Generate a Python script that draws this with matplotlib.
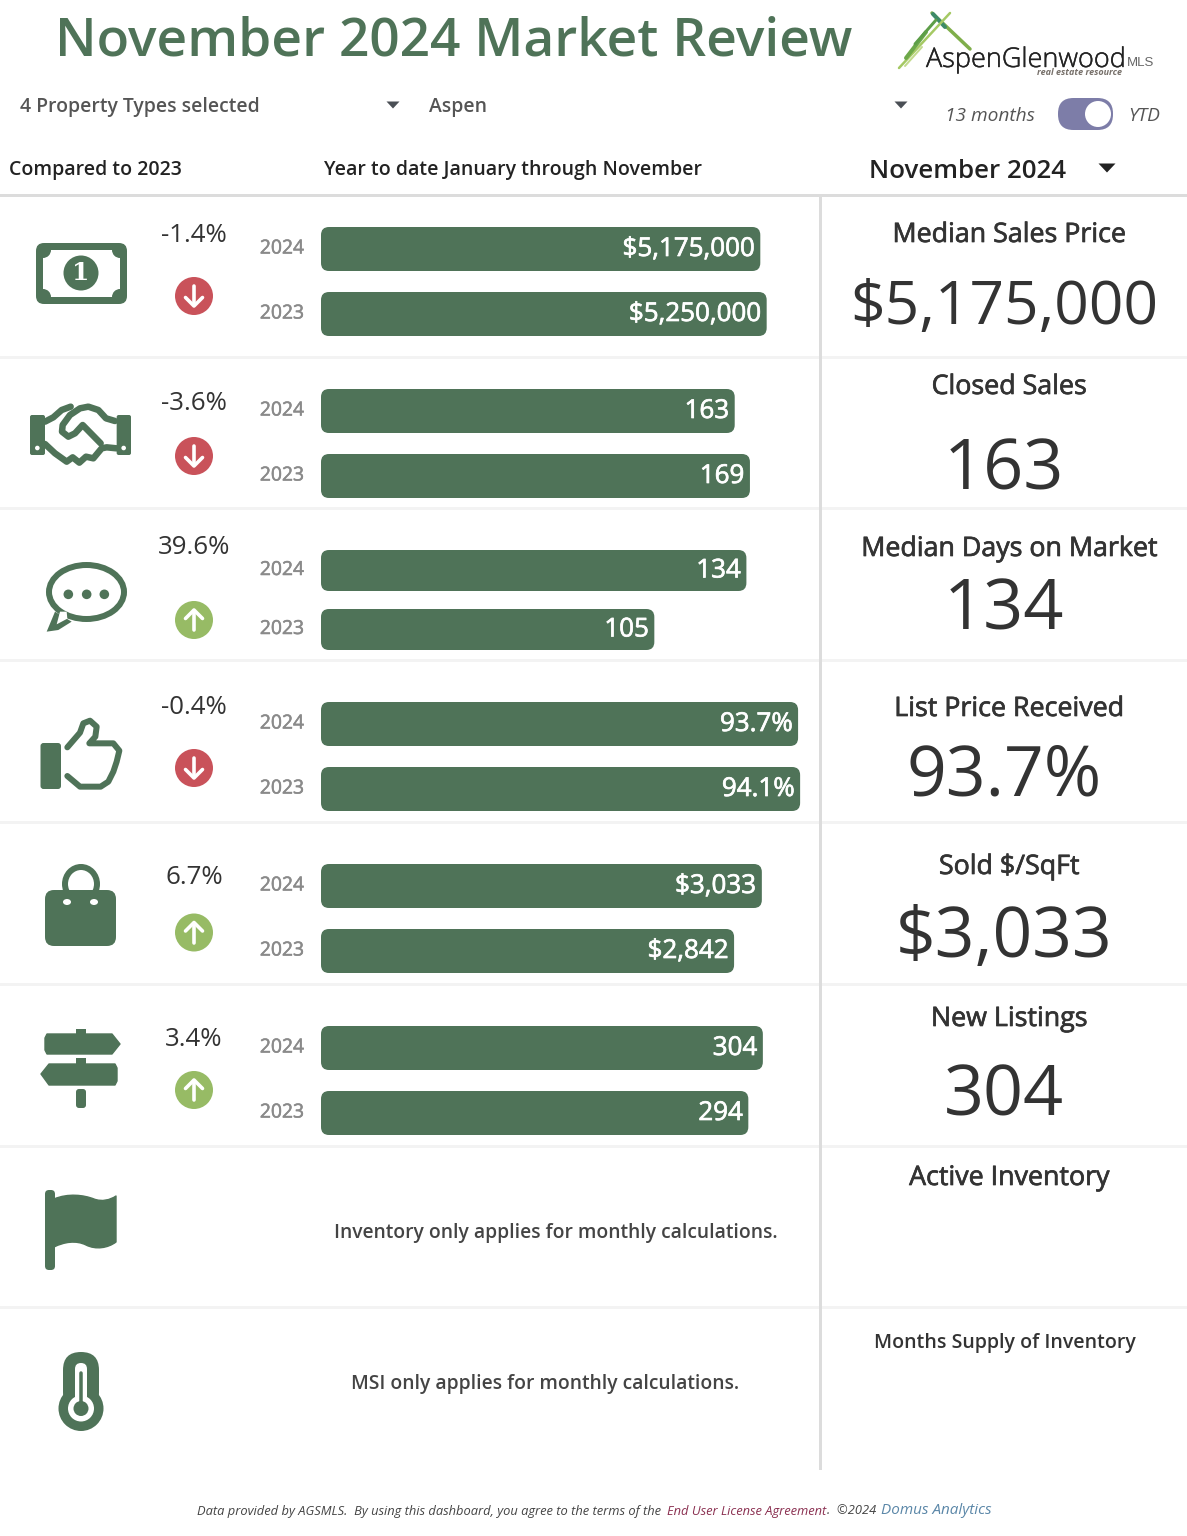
import matplotlib
matplotlib.use("Agg")
import matplotlib.pyplot as plt
import matplotlib.patheffects as pe
from matplotlib.patches import Circle, Ellipse, FancyBboxPatch, Polygon, Rectangle
from matplotlib.patches import PathPatch
from matplotlib.path import Path
from matplotlib.transforms import ScaledTranslation

plt.rcParams['font.family'] = ['Open Sans', 'DejaVu Sans']

# data
metrics = ["Median Sales Price", "Closed Sales", "Median Days on Market",
           "List Price Received", "Sold $/SqFt", "New Listings",
           "Active Inventory", "Months Supply of Inventory"]
years = ["2024", "2023"]
values_2024 = [5175000, 163, 134, 93.7, 3033, 304]
values_2023 = [5250000, 169, 105, 94.1, 2842, 294]
labels_2024 = ["$5,175,000", "163", "134", "93.7%", "$3,033", "304"]
labels_2023 = ["$5,250,000", "169", "105", "94.1%", "$2,842", "294"]
changes = ["-1.4%", "-3.6%", "39.6%", "-0.4%", "6.7%", "3.4%"]
inventory_note = "Inventory only applies for monthly calculations."
msi_note = "MSI only applies for monthly calculations."

# layout, all in pixels of the picture
W, H = 1187, 1536
BAR_LEFT, BAR_AXES_W = 321, 500
xmax = [5890000, 197, 157.5, 98.2, 3440, 344]
bar_tops = [(227, 292), (389, 454), (550, 609), (702, 767), (864, 929), (1026, 1091)]
bar_heights = [44, 44, 41, 44, 44, 44]
change_y = [233, 401, 546, 705, 876, 1038]
arrow_y = [296, 456, 620, 768, 932.5, 1090]
title_y = [233, 385, 547, 707, 865, 1017, 1176, 1341]
big_y = [301, 464, 605, 771, 932, 1091]
big_size = [43.6, 50.6, 50.6, 50, 50, 50.4]
divider_y = [357, 508, 660, 822, 984, 1146, 1307]

GREEN = "#4f7358"
RED = "#c9525a"
LIME = "#97bb65"

fig = plt.figure(figsize=(W / 100, H / 100), dpi=100, facecolor="white")
bg = fig.add_axes([0, 0, 1, 1])
bg.set_xlim(0, W)
bg.set_ylim(H, 0)
bg.axis("off")


def px(v):
    return v * 0.72


def medium(t, color, width=0.5):
    # the font has no medium cut here, thicken the regular one a bit
    t.set_path_effects([pe.withStroke(linewidth=width, foreground=color)])
    return t


def txt(x, y, s, size, color="#333333", ha="left", weight="normal", style="normal", **kw):
    # va center sits a little high for this font
    return bg.text(x, y + 2, s, fontsize=size, color=color, ha=ha, va="center",
                   fontweight=weight, fontstyle=style, **kw)


def stroke(pts, width, color=GREEN, closed=False):
    xs = [p[0] for p in pts]
    ys = [p[1] for p in pts]
    if closed:
        xs.append(xs[0])
        ys.append(ys[0])
    bg.plot(xs, ys, color=color, lw=px(width), solid_capstyle="round", solid_joinstyle="round")


def rbox(x0, y0, x1, y1, r, color=GREEN):
    return bg.add_patch(FancyBboxPatch((x0 + r, y0 + r), x1 - x0 - 2 * r, y1 - y0 - 2 * r,
                                       boxstyle="round,pad=%f,rounding_size=%f" % (r, r),
                                       fc=color, ec="none"))


def triangle(cx, cy, w, h, color):
    bg.add_patch(Polygon([(cx - w / 2, cy - h / 2), (cx + w / 2, cy - h / 2), (cx, cy + h / 2)],
                         fc=color, ec="none", joinstyle="round"))


def z3(pts):
    return [(x / 3, 360 + y / 3) for x, y in pts]


def icon_money():
    rbox(36, 243, 127, 304, 8)
    inner = bg.add_patch(Rectangle((43, 250), 77, 47, fc="white", ec="none"))
    for cx, cy in [(43, 250), (120, 250), (43, 297), (120, 297)]:
        c = bg.add_patch(Circle((cx, cy), 8, fc=GREEN, ec="none"))
        c.set_clip_path(inner)
    bg.add_patch(Circle((81, 273), 17.5, fc=GREEN, ec="none"))
    bg.text(81, 273.5, "1", fontsize=18, color="white", fontweight="bold", ha="center",
            va="center", family="DejaVu Serif")


def icon_hands():
    for x0, x1 in [(90, 135), (350, 393)]:
        a, b = x0 / 3, x1 / 3
        rbox(a, 360 + 165 / 3, b, 360 + 285 / 3, 2)
    for x in [112, 371]:
        bg.add_patch(Circle((x / 3, 360 + 264 / 3), 2.3, fc="white", ec="none"))
    w = 6.5
    stroke(z3([(135, 185), (160, 172), (185, 150), (212, 140)]), w)
    stroke(z3([(345, 183), (318, 175), (295, 150), (265, 140), (240, 145), (210, 165), (188, 195),
               (186, 215), (205, 230), (225, 220), (248, 195), (302, 250)]), w)
    stroke(z3([(135, 252), (165, 280), (200, 305), (218, 292), (238, 308), (258, 290), (280, 295),
               (305, 265), (320, 262), (350, 265)]), w)


def icon_bubble():
    bg.add_patch(Ellipse((86.5, 592), 75, 54, fc="none", ec=GREEN, lw=px(6)))
    bg.add_patch(Polygon(z3([(165, 755), (140, 815), (175, 810), (215, 785), (190, 770)]),
                         fc=GREEN, ec="none"))
    bg.add_patch(Polygon(z3([(180, 755), (170, 793), (202, 776), (200, 755)]), fc="white", ec="none"))
    for x in [205, 260, 313]:
        bg.add_patch(Circle((x / 3, 360 + 703 / 3), 4.8, fc=GREEN, ec="none"))


def icon_thumb():
    rbox(40.5, 743, 61, 789, 3)
    stroke(z3([(202, 1162), (240, 1118), (250, 1090), (270, 1082), (290, 1100), (286, 1130),
               (268, 1150), (340, 1150), (358, 1172), (350, 1205), (340, 1235), (325, 1265),
               (302, 1280), (240, 1280), (202, 1248)]), 6)


def icon_bag():
    bg.add_patch(Ellipse((81, 884), 32, 34, fc="none", ec=GREEN, lw=px(6)))
    rbox(45, 890, 116, 946, 9)
    for x in [67, 94]:
        bg.add_patch(Ellipse((x, 902), 8, 6, fc="white", ec="none"))


def icon_sign():
    bg.add_patch(Rectangle((76, 1029), 10, 6, fc=GREEN, ec="none"))
    bg.add_patch(Polygon([(47, 1034), (112, 1034), (120, 1044), (112, 1054), (47, 1054), (45, 1050),
                          (45, 1038)], fc=GREEN, ec=GREEN, lw=1, joinstyle="round"))
    bg.add_patch(Rectangle((76, 1058), 10, 6, fc=GREEN, ec="none"))
    bg.add_patch(Polygon([(49, 1064), (115, 1064), (117, 1068), (117, 1081), (115, 1085), (49, 1085),
                          (41, 1074)], fc=GREEN, ec=GREEN, lw=1, joinstyle="round"))
    rbox(76, 1089, 86, 1108, 3)


def icon_flag():
    rbox(45, 1190, 55, 1270, 4)
    verts = [(54, 1199),
             (68, 1193), (84, 1195), (94, 1199),
             (102, 1202), (110, 1200), (116, 1196),
             (116, 1242),
             (108, 1248), (96, 1250), (86, 1245),
             (76, 1240), (64, 1242), (54, 1247),
             (54, 1199)]
    codes = [Path.MOVETO, Path.CURVE4, Path.CURVE4, Path.CURVE4, Path.CURVE4, Path.CURVE4, Path.CURVE4,
             Path.LINETO, Path.CURVE4, Path.CURVE4, Path.CURVE4, Path.CURVE4, Path.CURVE4, Path.CURVE4,
             Path.CLOSEPOLY]
    bg.add_patch(PathPatch(Path(verts, codes), fc=GREEN, ec=GREEN, lw=1, joinstyle="round"))


def icon_thermo():
    rbox(63, 1352, 99, 1410, 18)
    bg.add_patch(Circle((81, 1408.5), 22.5, fc=GREEN, ec="none"))
    rbox(75, 1363, 87, 1404, 6, color="white")
    bg.add_patch(Circle((81, 1408.5), 13, fc="white", ec="none"))
    bg.add_patch(Circle((81, 1408.5), 7.5, fc=GREEN, ec="none"))
    bg.plot([81, 81], [1373, 1408], color=GREEN, lw=px(3.5), solid_capstyle="round")


def arrow(cx, cy, up):
    bg.add_patch(Ellipse((cx, cy), 38, 38, fc=LIME if up else RED, ec="none"))
    sign = -1 if up else 1
    bg.plot([cx, cx], [cy - sign * 10, cy + sign * 9], color="white", lw=px(3.6),
            solid_capstyle="round")
    bg.plot([cx - 8.5, cx, cx + 8.5], [cy + sign * 1.5, cy + sign * 10, cy + sign * 1.5], color="white",
            lw=px(3.6), solid_capstyle="round", solid_joinstyle="round")


def logo():
    strokes = [
        ([(932, 13), (970, 49)], 3.5, "#7fae4a"),
        ([(933, 14), (945, 27)], 4, "#3d8a68"),
        ([(950, 13), (899, 68)], 2.5, "#a5c964"),
        ([(926, 32), (906, 58)], 4, "#6da84a"),
        ([(936, 20), (915, 44)], 3, "#5d9e48"),
        ([(922, 47), (905, 66)], 2, "#c3da8e"),
    ]
    for pts, w, c in strokes:
        bg.plot([p[0] for p in pts], [p[1] for p in pts], color=c, lw=px(w), solid_capstyle="round")
    medium(txt(926, 58, "AspenGlenwood", 19.5, color="#222222", weight="light"), "#222222", 0.3)
    txt(1127, 61, "MLS", 9.5, color="#666666", family="Liberation Sans")
    txt(1037, 70.5, "real estate resource", 6.5, color="#77706a", style="italic", weight="bold")


# header
txt(55, 40, "November 2024 Market Review", 38.3, color=GREEN, weight="semibold")
logo()
txt(20, 105, "4 Property Types selected", 13.95, color="#555555", weight="semibold")
triangle(393, 105, 13, 7, "#4a4f55")
txt(429, 105, "Aspen", 13.95, color="#555555", weight="semibold")
triangle(901, 105, 13, 7, "#4a4f55")
txt(945, 114, "13 months", 13.8, color="#555555", style="italic")
rbox(1058, 98, 1113, 130, 15.5, color="#7d7da8")
bg.add_patch(Circle((1098, 114), 13, fc="white", ec="none"))
txt(1128, 114, "YTD", 13.8, color="#555555", style="italic")
txt(9, 168, "Compared to 2023", 14.05, color="#222222", weight="semibold")
txt(324, 168, "Year to date January through November", 14.05, color="#222222", weight="semibold")
txt(869, 169, "November 2024", 18.6, color="#222222", weight="semibold")
triangle(1107, 168, 17, 9, "#222222")

# rules
bg.plot([0, W], [195, 195], color="#dcdcdc", lw=px(3))
for y in divider_y:
    bg.plot([0, W], [y, y], color="#f3f3f3", lw=px(3))
bg.plot([820, 820], [195, 1468], color="#dcdcdc", lw=px(3))

icons = [icon_money, icon_hands, icon_bubble, icon_thumb, icon_bag, icon_sign, icon_flag, icon_thermo]
for f in icons:
    f()

# one small axes for each pair of bars, with its own value scale
for i in range(6):
    t1, t2 = bar_tops[i]
    bh = bar_heights[i]
    d = t2 - t1
    top, bottom = t1 - 6, t2 + bh + 6
    ax = fig.add_axes([BAR_LEFT / W, 1 - bottom / H, BAR_AXES_W / W, (bottom - top) / H])
    ax.patch.set_alpha(0)
    ax.set_xlim(0, xmax[i])
    ax.set_ylim((t2 + bh + 6 - t1 - bh / 2) / d, (t1 - 6 - t1 - bh / 2) / d)
    ax.set_yticks([0, 1], years)
    ax.set_xticks([])
    ax.tick_params(axis="y", length=0, pad=px(17), labelsize=13.9, labelcolor="#8a8a8a")
    for lab in ax.get_yticklabels():
        medium(lab, "#8a8a8a", 0.4)
        lab.set_transform(lab.get_transform() + ScaledTranslation(0, px(2.5) / 72, fig.dpi_scale_trans))
    for s in ax.spines.values():
        s.set_visible(False)
    h = bh / d
    rx = 8 * xmax[i] / BAR_AXES_W
    ry = 8 / d
    vals = [values_2024[i], values_2023[i]]
    labs = [labels_2024[i], labels_2023[i]]
    for j in range(2):
        ax.add_patch(FancyBboxPatch((0, j - h / 2), vals[j], h,
                                    boxstyle="round,pad=0,rounding_size=%f" % rx,
                                    mutation_aspect=ry / rx, fc=GREEN, ec="none"))
        t = ax.annotate(labs[j], (vals[j], j), xytext=(-px(5.5), -px(0.5)), textcoords="offset points",
                        ha="right", va="center", color="white", fontsize=18.7)
        medium(t, "white", 0.5)
    txt(194, change_y[i], changes[i], 18.6, color="#333333", ha="center")
    arrow(194, arrow_y[i], not changes[i].startswith("-"))
    txt(1004, big_y[i] + 5, labels_2024[i], big_size[i], color="#333333", ha="center")

for i, m in enumerate(metrics):
    if i == 7:
        txt(1004.5, title_y[i], m, 14, color="#333333", ha="center", weight="semibold")
    else:
        medium(txt(1009, title_y[i], m, 19.3, color="#333333", ha="center"), "#333333", 0.5)

txt(556, 1231, inventory_note, 13.9, color="#444444", ha="center", weight="semibold")
txt(545, 1382, msi_note, 13.9, color="#444444", ha="center", weight="semibold")

# footer
txt(197, 1509, "Data provided by AGSMLS.  By using this dashboard, you agree to the terms of the", 9.3,
    color="#444444", style="italic")
txt(667, 1509, "End User License Agreement", 9.3, color="#8a2f50", style="italic")
txt(827, 1509, ".  ©2024", 9.3, color="#444444", style="italic")
txt(881, 1509, "Domus Analytics", 11, color="#5b87a8", style="italic")

fig.savefig("out.png", dpi=100, facecolor="white")
